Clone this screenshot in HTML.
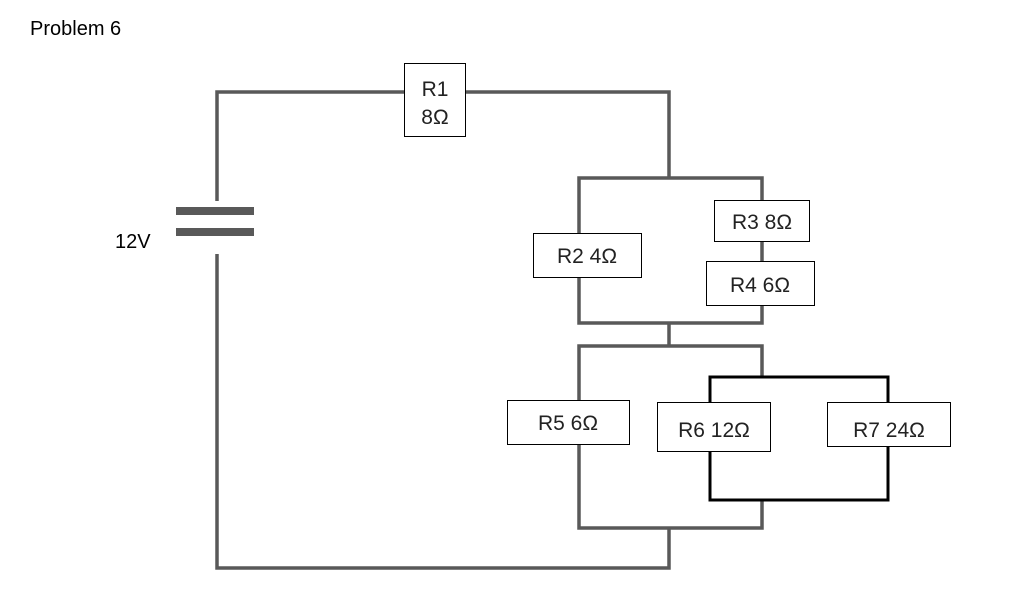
<!DOCTYPE html>
<html><head><style>
body{margin:0;background:#fff;}
svg{display:block;font-family:"Liberation Sans",Arial,sans-serif;}
</style></head><body>
<svg width="1018" height="607" viewBox="0 0 1018 607">
<rect width="1018" height="607" fill="#fff"/>
<text x="30" y="35" font-size="20" fill="#000">Problem 6</text>
<text x="115" y="248" font-size="20" fill="#000">12V</text>
<g stroke="#595959" stroke-width="3.5" fill="none">
<polyline points="217,201 217,92 669,92 669,178"/>
<polyline points="217,254 217,568 669,568 669,528"/>
<rect x="579" y="178" width="183" height="145"/>
<line x1="669" y1="323" x2="669" y2="346"/>
<rect x="579" y="346" width="183" height="182"/>
</g>
<rect x="176" y="207" width="78" height="8" fill="#595959"/>
<rect x="176" y="228" width="78" height="8" fill="#595959"/>
<rect x="710" y="377" width="178" height="123" fill="#fff" stroke="#000" stroke-width="3"/>
<g fill="#fff" stroke="#000" stroke-width="1">
<rect x="404.5" y="63.5" width="61" height="73"/>
<rect x="533.5" y="233.5" width="108" height="44"/>
<rect x="714.5" y="200.5" width="95" height="41"/>
<rect x="706.5" y="261.5" width="108" height="44"/>
<rect x="507.5" y="400.5" width="122" height="44"/>
<rect x="657.5" y="402.5" width="113" height="49"/>
<rect x="827.5" y="402.5" width="123" height="44"/>
</g>
<g font-size="21" fill="#222" text-anchor="middle">
<text x="435" y="96">R1</text>
<text x="435" y="124">8Ω</text>
<text x="587" y="263">R2 4Ω</text>
<text x="762" y="229">R3 8Ω</text>
<text x="760" y="292">R4 6Ω</text>
<text x="568" y="430">R5 6Ω</text>
<text x="714" y="437">R6 12Ω</text>
<text x="889" y="437">R7 24Ω</text>
</g>
</svg>
</body></html>
